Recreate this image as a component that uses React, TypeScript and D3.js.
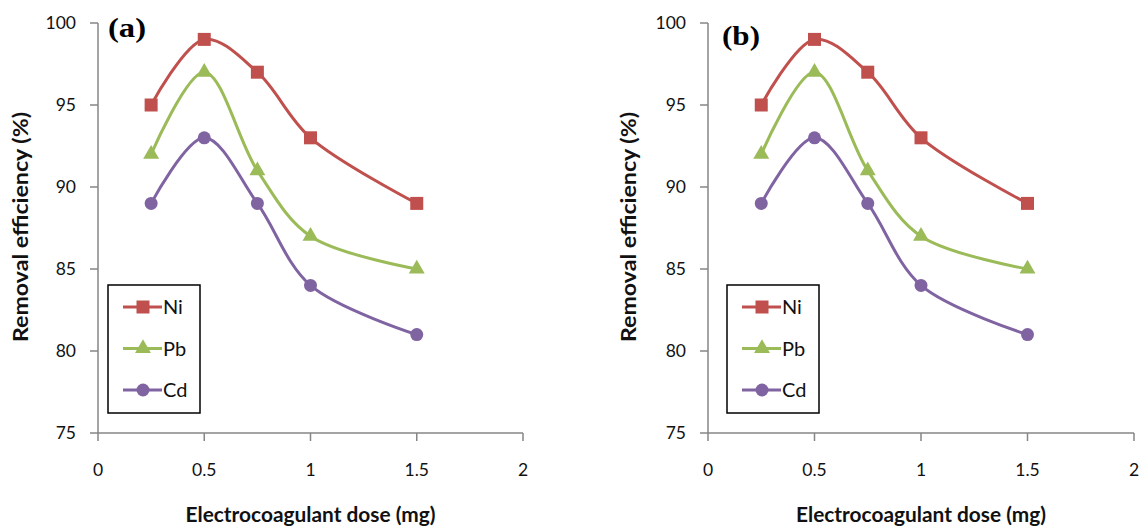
import React from "react";
import * as d3 from "d3";

const doses = [0.25, 0.5, 0.75, 1, 1.5];
const niValues = [95, 99, 97, 93, 89];
const pbValues = [92, 97, 91, 87, 85];
const cdValues = [89, 93, 89, 84, 81];
const xTicks = [0, 0.5, 1, 1.5, 2];
const yTicks = [75, 80, 85, 90, 95, 100];
const panelLabels = ["(a)", "(b)"];
const seriesNames = ["Ni", "Pb", "Cd"];

const COLORS = ["#C0504D", "#9BBB59", "#8064A2"];
const SHAPES = ["square", "triangle", "circle"];
const FONT = "Lato, 'Open Sans', sans-serif";

const panels = [
  { x0: 98, x1: 523, labelX: 108, labelY: 36.5, titleX: 21, legendX: 108 },
  { x0: 708, x1: 1134, labelX: 722, labelY: 44.5, titleX: 629, legendX: 727 },
];

function Marker({ shape, x, y, color }: { shape: string; x: number; y: number; color: string }) {
  if (shape === "square") return <rect x={x - 6.5} y={y - 6.5} width={13} height={13} fill={color} />;
  if (shape === "triangle") {
    const p = d3.symbol().type(d3.symbolTriangle).size(110)();
    return <path d={p || ""} transform={`translate(${x},${y})`} fill={color} />;
  }
  return <circle cx={x} cy={y} r={6.5} fill={color} />;
}

function Panel({ idx }: { idx: number }) {
  const p = panels[idx];
  const x = d3.scaleLinear().domain([0, 2]).range([p.x0, p.x1]);
  const y = d3.scaleLinear().domain([75, 100]).range([433, 23]);
  const data = [niValues, pbValues, cdValues];
  const line = d3
    .line<number>()
    .x((_, i) => x(doses[i]))
    .y((d) => y(d))
    .curve(d3.curveCatmullRom.alpha(0.5));
  const axisColor = "#868686";
  return (
    <g>
      {/* y axis */}
      <line x1={p.x0} x2={p.x0} y1={y(100)} y2={y(75)} stroke={axisColor} strokeWidth={1.5} />
      {yTicks.map((t) => (
        <g key={t}>
          <line x1={p.x0 - 8} x2={p.x0} y1={y(t)} y2={y(t)} stroke={axisColor} strokeWidth={1.5} />
          <text x={p.x0 - 22} y={y(t)} dy="0.35em" textAnchor="end" fontSize={17.5} fontFamily={FONT} fill="#111">
            {t}
          </text>
        </g>
      ))}
      {/* x axis */}
      <line x1={x(0)} x2={x(2)} y1={y(75)} y2={y(75)} stroke={axisColor} strokeWidth={1.5} />
      {xTicks.map((t) => (
        <g key={t}>
          <line x1={x(t)} x2={x(t)} y1={y(75)} y2={y(75) + 8} stroke={axisColor} strokeWidth={1.5} />
          <text x={x(t)} y={470} dy="0.35em" textAnchor="middle" fontSize={17.5} fontFamily={FONT} fill="#111">
            {t}
          </text>
        </g>
      ))}
      <text
        x={(p.x0 + p.x1) / 2}
        y={515}
        dy="0.35em"
        textAnchor="middle"
        fontSize={20}
        fontWeight="bold"
        fontFamily={FONT}
        fill="#111"
        textLength={250}
        lengthAdjust="spacingAndGlyphs"
      >
        Electrocoagulant dose (mg)
      </text>
      <text
        transform={`translate(${p.titleX},227) rotate(-90)`}
        textAnchor="middle"
        dy="0.35em"
        fontSize={20}
        fontWeight="bold"
        fontFamily={FONT}
        fill="#111"
        textLength={230}
        lengthAdjust="spacingAndGlyphs"
      >
        Removal efficiency (%)
      </text>
      <text
        x={p.labelX}
        y={p.labelY}
        fontSize={28}
        fontWeight="bold"
        fontFamily="'Liberation Serif', 'DejaVu Serif', serif"
        fill="#000"
        textLength={38}
        lengthAdjust="spacingAndGlyphs"
      >
        {panelLabels[idx]}
      </text>
      {/* series */}
      {data.map((vals, si) => (
        <g key={si}>
          <path d={line(vals) || ""} fill="none" stroke={COLORS[si]} strokeWidth={3} />
          {vals.map((v, i) => (
            <Marker key={i} shape={SHAPES[si]} x={x(doses[i])} y={y(v)} color={COLORS[si]} />
          ))}
        </g>
      ))}
      {/* legend */}
      <rect x={p.legendX} y={285} width={92} height={128} fill="#fff" stroke="#000" strokeWidth={1.5} />
      {seriesNames.map((n, i) => {
        const ly = 307 + i * 41.5;
        const lx = p.legendX;
        return (
          <g key={n}>
            <line x1={lx + 15} x2={lx + 54} y1={ly} y2={ly} stroke={COLORS[i]} strokeWidth={3} />
            <Marker shape={SHAPES[i]} x={lx + 35} y={ly} color={COLORS[i]} />
            <text x={lx + 55} y={ly} dy="0.36em" fontSize={20} fontFamily={FONT} fill="#111">
              {n}
            </text>
          </g>
        );
      })}
    </g>
  );
}

export default function App() {
  return (
    <svg
      width={1140}
      height={530}
      style={{ position: "absolute", left: 0, top: 0, background: "#fff" }}
    >
      <rect width={1140} height={530} fill="#fff" />
      <Panel idx={0} />
      <Panel idx={1} />
    </svg>
  );
}
